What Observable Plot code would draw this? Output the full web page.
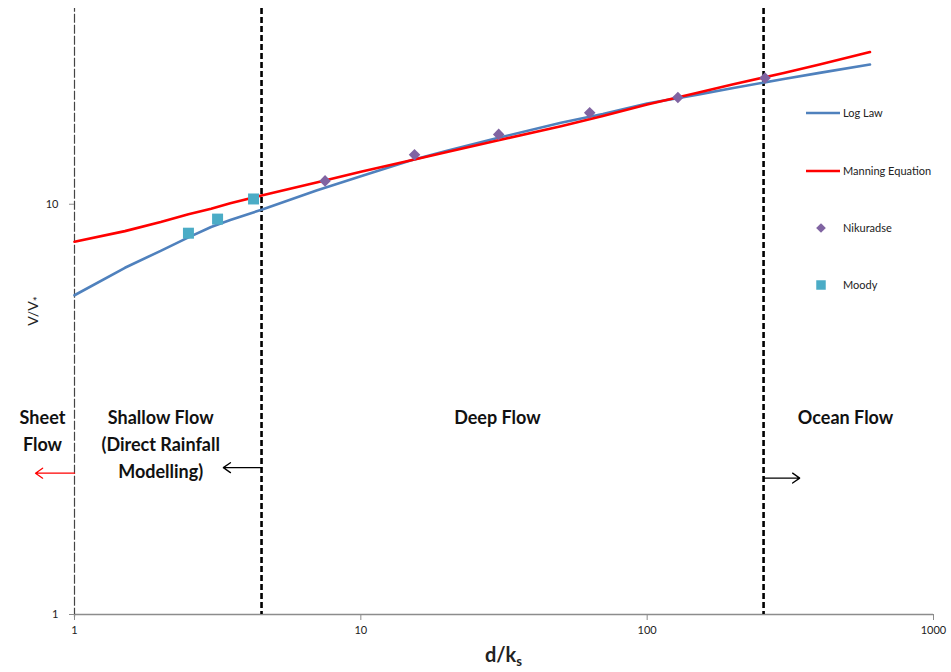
<!DOCTYPE html>
<html>
<head>
<meta charset="utf-8">
<script src="https://cdn.jsdelivr.net/npm/d3@7"></script>
<script src="https://cdn.jsdelivr.net/npm/@observablehq/plot@0.6"></script>
<style>
  body { margin: 0; background: #fff; }
  #chart { width: 951px; height: 672px; }
</style>
</head>
<body>
<div id="chart"></div>
<script>
// ---- data ----
const curveX     = [1, 1.5, 2, 2.5, 3, 3.5, 4.5, 7, 10, 15, 20, 30, 50, 70, 100, 150, 200, 300, 400, 600];
const logLawY    = [6.0, 7.0, 7.7, 8.3, 8.8, 9.15, 9.7, 10.8, 11.7, 12.8, 13.5, 14.5, 15.8, 16.6, 17.6, 18.5, 19.2, 20.2, 20.9, 21.9];
const manningY   = [8.1, 8.6, 9.05, 9.45, 9.75, 10.05, 10.5, 11.3, 12.0, 12.8, 13.4, 14.3, 15.5, 16.4, 17.5, 18.7, 19.6, 20.9, 21.9, 23.5];

const nikuradseX = [7.5, 15.4, 30.3, 63, 128, 258];
const nikuradseY = [11.4, 13.2, 14.8, 16.7, 18.2, 20.3];

const moodyX     = [2.5, 3.16, 4.22];
const moodyY     = [8.5, 9.2, 10.3];

const boundaryX  = [4.5, 255];          // regime boundaries (heavy dashed)
const axisLineX  = [1];                 // thin dashed line at d/ks = 1

const regionLabels = ["Sheet\nFlow", "Shallow Flow\n(Direct Rainfall\nModelling)", "Deep Flow", "Ocean Flow"];
const regionX      = [0.773, 2.0, 30, 493];
const regionY      = [2.835, 2.63, 3.06, 3.06];

const arrowX1    = [1, 4.5, 255];
const arrowX2    = [0.731, 3.31, 341];
const arrowY     = [2.21, 2.28, 2.15];
const arrowColor = ["#ff0000", "#000000", "#000000"];

const xTicks      = [1, 10, 100, 1000];
const xTickLabels = ["1", "10", "100", "1000"];
const yTicks      = [1, 10];
const yTickLabels = ["1", "10"];

const seriesNames = ["Log Law", "Manning Equation", "Nikuradse", "Moody"];

// ---- build tables ----
const logLaw  = curveX.map((x, i) => ({x, y: logLawY[i]}));
const manning = curveX.map((x, i) => ({x, y: manningY[i]}));
const nik     = nikuradseX.map((x, i) => ({x, y: nikuradseY[i]}));
const moody   = moodyX.map((x, i) => ({x, y: moodyY[i]}));
const regions = regionLabels.map((t, i) => ({t, x: regionX[i], y: regionY[i]}));
const arrows  = arrowX1.map((x1, i) => ({x1, x2: arrowX2[i], y: arrowY[i], c: arrowColor[i]}));

const W = 951, H = 672, ML = 74, MR = 18, MT = 8, MB = 58;
const FONT = "Lato, 'Open Sans', sans-serif";

const chart = Plot.plot({
  width: W, height: H,
  marginLeft: ML, marginRight: MR, marginTop: MT, marginBottom: MB,
  style: {fontFamily: FONT, fontSize: "11px", color: "#222", background: "#fff", overflow: "visible"},
  x: {type: "log", domain: [1, 1000]},
  y: {type: "log", domain: [1, 30]},
  marks: [
    Plot.ruleY([1], {stroke: "#8c8c8c", strokeWidth: 1.6}),
    Plot.ruleX(axisLineX, {stroke: "#444", strokeWidth: 1.2, strokeDasharray: "9,2", y1: 0.985, y2: 30}),
    Plot.ruleX(boundaryX, {stroke: "#000", strokeWidth: 2.6, strokeDasharray: "6,3"}),
    Plot.line(logLaw, {x: "x", y: "y", stroke: "#4F81BD", strokeWidth: 2.6, curve: "linear"}),
    Plot.line(manning, {x: "x", y: "y", stroke: "#FF0000", strokeWidth: 2.6, curve: "linear"}),
    Plot.dot(nik, {x: "x", y: "y", symbol: "diamond2", r: 5.2, fill: "#8064A2", stroke: "none"}),
    Plot.dot(moody, {x: "x", y: "y", symbol: "square", r: 6.2, fill: "#4BACC6", stroke: "none"}),
    Plot.arrow(arrows, {x1: "x1", x2: "x2", y1: "y", y2: "y", stroke: "c", strokeWidth: 1.3, headLength: 10, headAngle: 70}),
    Plot.text(regions, {x: "x", y: "y", text: "t", fontFamily: FONT, fontWeight: "bold", fontSize: 18, fill: "#111",
      lineAnchor: "middle", lineHeight: 1.5, textAnchor: "middle"}),
    Plot.axisX({ticks: xTicks, tickFormat: d => xTickLabels[xTicks.indexOf(d)], tickSize: 6, tickPadding: 6,
      stroke: "#8c8c8c", fill: "#222", label: null, fontSize: 11}),
    Plot.axisY({ticks: yTicks, tickFormat: d => yTickLabels[yTicks.indexOf(d)], tickSize: 5, tickPadding: 11,
      stroke: "#8c8c8c", fill: "#222", label: null, fontSize: 11})
  ]
});

// axis titles with subscripts
const svg = d3.select(chart);
const xl = svg.append("text")
  .attr("x", ML + (W - ML - MR) / 2).attr("y", 662)
  .attr("text-anchor", "middle")
  .style("font-family", FONT).style("font-weight", "bold").style("font-size", "20px").attr("fill", "#222");
xl.append("tspan").text("d/k");
xl.append("tspan").attr("dy", 4).style("font-size", "13px").text("s");

const yl = svg.append("text")
  .attr("transform", `translate(38,${MT + (H - MT - MB) / 2}) rotate(-90)`)
  .attr("text-anchor", "middle")
  .style("font-family", FONT).style("font-size", "14px").attr("fill", "#222");
yl.append("tspan").text("V/V");
yl.append("tspan").attr("dy", 4).style("font-size", "12px").text("*");

// legend
const lg = svg.append("g").style("font-family", FONT).style("font-size", "11px");
const legendY = [113, 171, 228, 285];
const legendKinds = [
  {type: "line", color: "#4F81BD"},
  {type: "line", color: "#FF0000"},
  {type: "diamond", color: "#8064A2"},
  {type: "square", color: "#4BACC6"}
];
seriesNames.forEach((name, i) => {
  const k = legendKinds[i], y = legendY[i];
  if (k.type === "line") {
    lg.append("line").attr("x1", 806).attr("x2", 840).attr("y1", y).attr("y2", y)
      .attr("stroke", k.color).attr("stroke-width", 2.6);
  } else if (k.type === "diamond") {
    lg.append("path").attr("d", d3.symbol(d3.symbolDiamond2, 60)()).attr("transform", `translate(821,${y})`).attr("fill", k.color);
  } else {
    lg.append("path").attr("d", d3.symbol(d3.symbolSquare, 90)()).attr("transform", `translate(821,${y})`).attr("fill", k.color);
  }
  lg.append("text").attr("x", 843).attr("y", y).attr("dy", "0.35em").attr("text-anchor", "start")
    .attr("fill", "#222").text(name);
});

document.getElementById("chart").appendChild(chart);
</script>
</body>
</html>
